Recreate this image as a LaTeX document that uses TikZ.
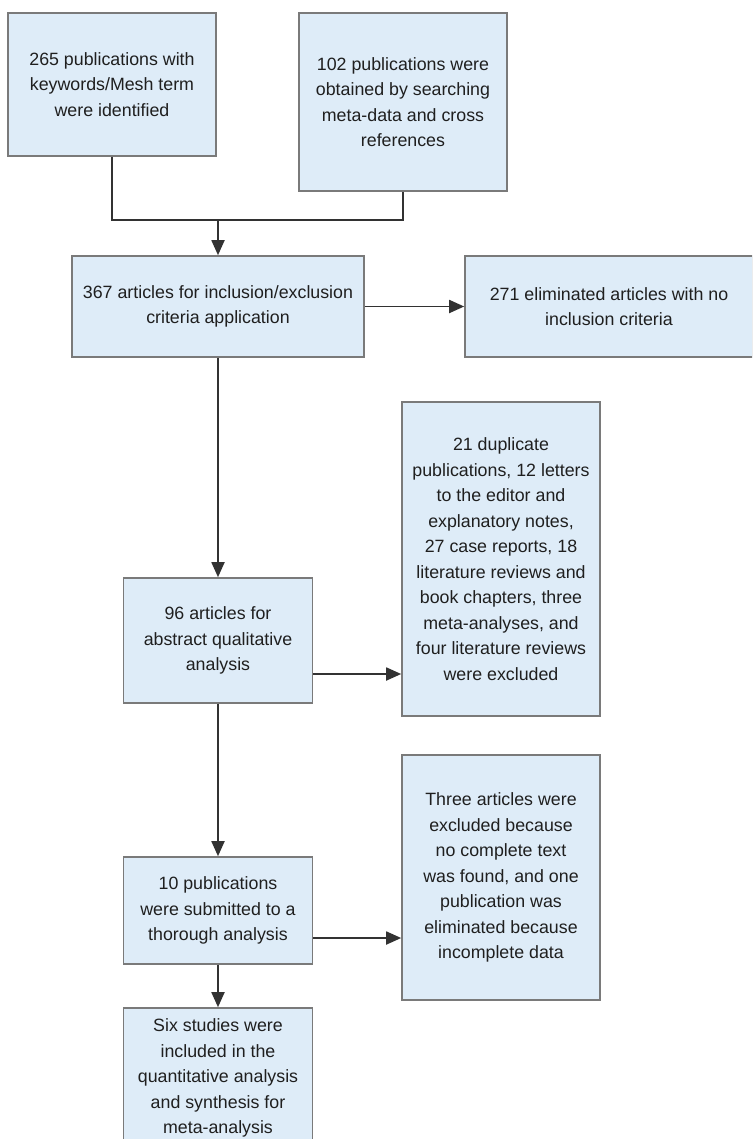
\documentclass[tikz,border=0pt]{standalone}
\usepackage{fontspec}
\setmainfont{Liberation Sans}
\usetikzlibrary{arrows.meta}
\definecolor{boxfill}{RGB}{222,236,248}
\definecolor{boxline}{RGB}{122,122,122}
\definecolor{flowline}{RGB}{50,50,50}
\tikzset{
  stage/.style={draw=boxline, fill=boxfill, line width=0.8pt, align=center, inner sep=0pt,
    font=\fontsize{8.9}{12.75}\selectfont, text=black!88},
  flow/.style={draw=flowline, line width=0.9pt}
}

\begin{document}
\begin{tikzpicture}[x=0.5pt,y=-0.5pt,>={Triangle[length=7.5pt,width=6.5pt]}]
\useasboundingbox (0,0) rectangle (752,1139);
\clip (0,0) rectangle (752,1139);
\node[stage, minimum width=104pt, minimum height=71.5pt] (found) at (112,84.5) {265 publications with\\keywords/Mesh term\\were identified};
\node[stage, minimum width=104pt, minimum height=89pt] (extra) at (403,102) {102 publications were\\obtained by searching\\meta-data and cross\\references};
\node[stage, minimum width=146pt, minimum height=50.5pt] (pool) at (218,306.5) {367 articles for inclusion/exclusion\\criteria application};
\node[stage, minimum width=144pt, minimum height=50.5pt] (noincl) at (609,306.5) {271 eliminated articles with no\\inclusion criteria};
\node[stage, minimum width=94.5pt, minimum height=62.5pt] (abstr) at (218,640.5) {96 articles for\\abstract qualitative\\analysis};
\node[stage, minimum width=99pt, minimum height=157pt] (dropped) at (501,559) {21 duplicate\\publications, 12 letters\\to the editor and\\explanatory notes,\\27 case reports, 18\\literature reviews and\\book chapters, three\\meta-analyses, and\\four literature reviews\\were excluded};
\node[stage, minimum width=94.5pt, minimum height=53.5pt] (thorough) at (218,910.5) {10 publications\\were submitted to a\\thorough analysis};
\node[stage, minimum width=99pt, minimum height=122.5pt] (notext) at (501,877.5) {Three articles were\\excluded because\\no complete text\\was found, and one\\publication was\\eliminated because\\incomplete data};
\node[stage, minimum width=94.5pt, minimum height=70pt] (final) at (218,1078) {Six studies were\\included in the\\quantitative analysis\\and synthesis for\\meta-analysis};

\coordinate (join) at (218,220);
\draw[flow] (found.south) |- (join) -| (extra.south);
\draw[flow,->] (join) -- (pool.north);
\draw[flow,->] (pool.east) -- (noincl.west);
\draw[flow,->] (pool.south) -- (abstr.north);
\draw[flow,->] ([yshift=-16.75pt]abstr.east) coordinate (a1) -- (a1 -| dropped.west);
\draw[flow,->] (abstr.south) -- (thorough.north);
\draw[flow,->] ([yshift=-13.75pt]thorough.east) coordinate (t1) -- (t1 -| notext.west);
\draw[flow,->] (thorough.south) -- (final.north);
\end{tikzpicture}
\end{document}
